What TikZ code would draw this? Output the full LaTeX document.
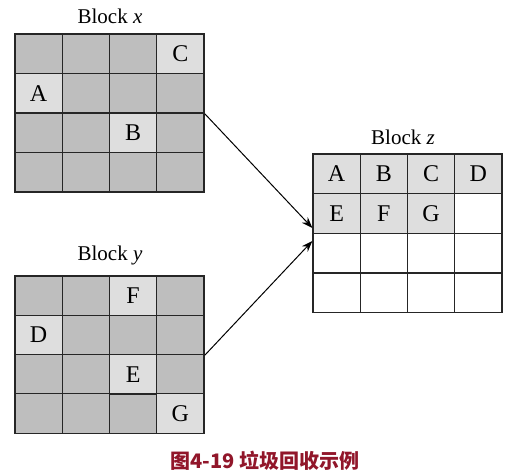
\documentclass[tikz,border=0pt]{standalone}
\usepackage{fontspec}
\setmainfont{Liberation Serif}
\newfontfamily\cjk{Noto Sans CJK SC}
\usepackage{xcolor}
\usepackage{tikz}
\usetikzlibrary{arrows.meta,positioning}

\definecolor{usedgray}{RGB}{222,222,222}
\definecolor{freegray}{RGB}{190,190,190}
\definecolor{capred}{RGB}{145,22,42}

\tikzset{
    cell/.style={draw=black!85, line width=1.3pt, minimum width=47.25pt, minimum height=39.5pt,
        inner sep=0pt, font=\fontsize{24}{24}\selectfont},
    blocklabel/.style={font=\fontsize{21}{21}\selectfont},
    move/.style={-{Stealth[length=11pt,width=8pt]}, line width=1pt}
}

\begin{document}
\begin{tikzpicture}[x=1pt,y=-1pt]
\useasboundingbox[fill=white] (0,0) rectangle (517,474);

% Block x: all cells free, then live objects
\foreach \r in {1,...,4} {
    \foreach \c in {1,...,4} {
        \node[cell, fill=freegray] (x\r\c) at (15+\c*47.25-23.6, 34+\r*39.5-19.75) {};
    }
}
\foreach \pos/\obj in {14/C, 21/A, 33/B} {
    \node[cell, fill=usedgray] (x\obj) at (x\pos) {\obj};
}
\node[blocklabel] (xlabel) at (110,16) {Block \textit{x}};

% Block y
\foreach \r in {1,...,4} {
    \foreach \c in {1,...,4} {
        \node[cell, fill=freegray] (y\r\c) at (15+\c*47.25-23.6, 276+\r*39.3-19.65) {};
    }
}
\foreach \pos/\obj in {13/F, 21/D, 33/E, 44/G} {
    \node[cell, fill=usedgray] (y\obj) at (y\pos) {\obj};
}
\node[blocklabel] (ylabel) at (110,255) {Block \textit{y}};

% Block z: compacted
\foreach \r in {1,...,4} {
    \foreach \c in {1,...,4} {
        \node[cell, fill=white] (z\r\c) at (313+\c*47.25-23.6, 154+\r*39.7-19.85) {};
    }
}
\foreach \pos/\obj in {11/A, 12/B, 13/C, 14/D, 21/E, 22/F, 23/G} {
    \node[cell, fill=usedgray] (z\obj) at (z\pos) {\obj};
}
\node[blocklabel] (zlabel) at (403,137) {Block \textit{z}};

% copy arrows
\draw[move] (x24.south east) -- ([yshift=6pt]z21.south west);
\draw[move] (y24.south east) -- ([yshift=-7pt]z21.south west);

% caption
\node[font=\cjk\bfseries\fontsize{20}{20}\selectfont, text=capred] (caption) at (265,461) {图4-19 垃圾回收示例};

\end{tikzpicture}
\end{document}
